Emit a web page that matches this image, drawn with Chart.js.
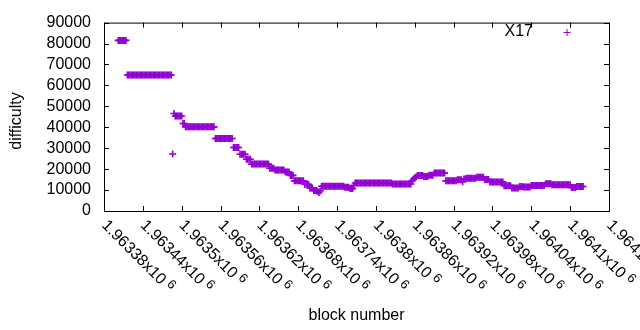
<!DOCTYPE html>
<html>
<head>
<meta charset="utf-8">
<script src="https://cdn.jsdelivr.net/npm/chart.js@4.4.1/dist/chart.umd.min.js"></script>
<style>
  html, body { margin: 0; padding: 0; background: #fff; }
  canvas { display: block; }
</style>
</head>
<body>
<canvas id="difficultyChart" width="640" height="330"></canvas>
<script>
// one sample every 2 blocks, starting at block 1963402
const firstBlock = 1963402;
const blockStep = 2;

const difficulty = [
  81500, 81500, 81500, 81500, 81500, 81500, 81500,
  65000, 65000, 65000, 65000, 65000, 65000, 65000, 65000, 65000, 65000,
  65000, 65000, 65000, 65000, 65000, 65000, 65000, 65000, 65000, 65000,
  65000, 65000, 65000, 65000, 65000, 65000, 65000, 65000, 65000, 65000,
  65000, 65000, 65000, 65000, 65000,
  27200, 46600,
  45400, 45400, 45400, 45400, 45400, 45400,
  41800, 41800,
  40200, 40200, 40200, 40200, 40200, 40200, 40200, 40200, 40200, 40200,
  40200, 40200, 40200, 40200, 40200, 40200, 40200, 40200, 40200, 40200,
  40200, 40200, 40200,
  34600, 34600, 34600, 34600, 34600, 34600, 34600, 34600, 34600, 34600,
  34600, 34600, 34600, 34600,
  30300, 30300, 30300, 30300, 30300,
  27100, 27100, 27100, 27100, 27100,
  24700, 24700, 24700, 24700,
  22400, 22400, 22400, 22400, 22400, 22400, 22400, 22400, 22400, 22400,
  22400, 22400, 22400, 22400,
  20400, 20400, 20400, 20400,
  19600, 19600, 19600, 19600, 19600, 19600, 19600, 19600,
  18600, 18600, 18600, 18600,
  17000, 17000, 17000,
  14400, 14400, 14400, 14400, 14400, 14400, 14400, 14400,
  12800, 12800, 12800, 12800,
  11000, 11000, 11000,
  9800, 9800, 9800, 9300, 8800, 9600,
  11800, 11800, 11800, 11800, 11800, 11800, 11800, 11800, 11800, 11800,
  11800, 11800, 11800, 11800, 11800, 11800, 11800, 11800,
  11300, 11300, 11300, 11300,
  10700, 10700, 10700,
  12300,
  13400, 13400, 13400, 13400, 13400, 13400, 13400, 13400, 13400, 13400,
  13400, 13400, 13400, 13400, 13400, 13400, 13400, 13400, 13400, 13400,
  13400, 13400, 13400, 13400, 13400, 13400, 13400, 13400, 13400,
  12900, 12900, 12900, 12900, 12900, 12900, 12900, 12900, 12900, 12900,
  12900, 12900, 12900, 12900, 12900,
  14500, 15300, 15800, 16300,
  16900, 16900, 16900, 16900, 16900,
  16500, 16500, 16500, 16500,
  17100, 17100, 17100, 17100,
  18200, 18200, 18200, 18200, 18200, 18200, 18200, 18200, 18200,
  14400, 14400, 14400, 14400, 14400, 14400, 14400, 14400, 14400,
  14900, 14900, 14900, 14900,
  14000,
  15300, 15300,
  15600, 15600, 15600, 15600, 15600, 15600, 15600, 15600,
  16100, 16100, 16100, 16100, 16100, 16100,
  15000, 15000, 15000, 15000,
  13900, 13900, 13900, 13900, 13900, 13900, 13900, 13900, 13900, 13900,
  13900,
  12100, 12100, 12100, 12100, 12100, 12100,
  11000, 11000, 11000, 11000, 11000, 11000,
  11700, 11700, 11700,
  11500, 11500, 11500, 11500, 11500, 11500,
  12200, 12200, 12200, 12200, 12200, 12200, 12200, 12200, 12200, 12200,
  12200,
  13000, 13000, 13000, 13000, 13000,
  12500, 12500, 12500, 12500, 12500, 12500, 12500, 12500, 12500, 12500,
  12500, 12500, 12500, 12500, 12500,
  11200, 11200, 11200, 11200,
  11700, 11700, 11700, 11700, 11700, 11700
];

const blockTicks = [1963380, 1963440, 1963500, 1963560, 1963620, 1963680, 1963740,
  1963800, 1963860, 1963920, 1963980, 1964040, 1964100, 1964160];
const difficultyTicks = [0, 10000, 20000, 30000, 40000, 50000, 60000, 70000, 80000, 90000];

const purple = '#9400d3';
const font = '"Liberation Sans", Arial, sans-serif';

const points = difficulty.map((d, i) => ({ x: firstBlock + i * blockStep, y: d }));

// gnuplot-like box, inward ticks, rotated x labels, y title and key
const gnuplotFrame = {
  id: 'gnuplotFrame',
  afterDraw(chart) {
    const { ctx, chartArea: a, scales: { x, y } } = chart;
    ctx.save();
    ctx.strokeStyle = '#000';
    ctx.lineWidth = 1;
    ctx.strokeRect(a.left + 0.5, a.top + 0.5, a.right - a.left, a.bottom - a.top);

    const tick = 5;
    ctx.beginPath();
    x.ticks.forEach(t => {
      const px = Math.round(x.getPixelForValue(t.value)) + 0.5;
      ctx.moveTo(px, a.bottom); ctx.lineTo(px, a.bottom - tick);
      ctx.moveTo(px, a.top); ctx.lineTo(px, a.top + tick);
    });
    y.ticks.forEach(t => {
      const py = Math.round(y.getPixelForValue(t.value)) + 0.5;
      ctx.moveTo(a.left, py); ctx.lineTo(a.left + tick, py);
      ctx.moveTo(a.right, py); ctx.lineTo(a.right - tick, py);
    });
    ctx.stroke();

    // x tick labels, rotated, "mantissa x10" with raised exponent
    ctx.fillStyle = '#000';
    x.ticks.forEach(t => {
      const px = x.getPixelForValue(t.value);
      const mant = parseFloat((t.value / 1e6).toFixed(5)).toString() + 'x10';
      ctx.save();
      ctx.translate(px, a.bottom + 12);
      ctx.rotate(Math.PI / 4);
      ctx.textAlign = 'left';
      ctx.textBaseline = 'middle';
      ctx.font = '16px ' + font;
      ctx.fillText(mant, 0, 0);
      const w = ctx.measureText(mant).width;
      ctx.font = '13px ' + font;
      ctx.fillText('6', w + 4, -4);
      ctx.restore();
    });

    // y title
    ctx.save();
    ctx.translate(17, 121);
    ctx.rotate(-Math.PI / 2);
    ctx.font = '16px ' + font;
    ctx.textAlign = 'center';
    ctx.textBaseline = 'middle';
    ctx.fillText('difficulty', 0, 0);
    ctx.restore();

    // key
    ctx.font = '16px ' + font;
    ctx.textAlign = 'right';
    ctx.textBaseline = 'middle';
    ctx.fillText(chart.data.datasets[0].label, 533, 32);
    ctx.strokeStyle = purple;
    ctx.beginPath();
    ctx.moveTo(563.5, 32.5); ctx.lineTo(570.5, 32.5);
    ctx.moveTo(567, 29); ctx.lineTo(567, 36);
    ctx.stroke();
    ctx.restore();
  }
};

new Chart(document.getElementById('difficultyChart'), {
  type: 'scatter',
  data: {
    datasets: [{
      label: 'X17',
      data: points,
      pointStyle: 'cross',
      pointRadius: 3.5,
      pointHoverRadius: 3.5,
      pointBorderWidth: 1.6,
      borderColor: purple,
      backgroundColor: purple
    }]
  },
  options: {
    responsive: false,
    animation: false,
    events: [],
    layout: { padding: { left: 0, right: 31, top: 19, bottom: 0 } },
    plugins: {
      legend: { display: false },
      tooltip: { enabled: false }
    },
    scales: {
      x: {
        type: 'linear',
        min: 1963380,
        max: 1964160,
        afterBuildTicks: s => { s.ticks = blockTicks.map(v => ({ value: v })); },
        afterFit: s => { s.height = 119; },
        ticks: { display: false },
        grid: { display: false },
        border: { display: false },
        title: {
          display: true,
          text: 'block number',
          color: '#000',
          font: { family: font, size: 16 },
          padding: { top: 0, bottom: 5 }
        }
      },
      y: {
        min: 0,
        max: 90000,
        afterBuildTicks: s => { s.ticks = difficultyTicks.map(v => ({ value: v })); },
        afterFit: s => { s.width = 104; },
        ticks: {
          padding: 13,
          autoSkip: false,
          color: '#000',
          font: { family: font, size: 16 },
          callback: v => String(v)
        },
        grid: { display: false, drawTicks: false },
        border: { display: false }
      }
    }
  },
  plugins: [gnuplotFrame]
});
</script>
</body>
</html>
